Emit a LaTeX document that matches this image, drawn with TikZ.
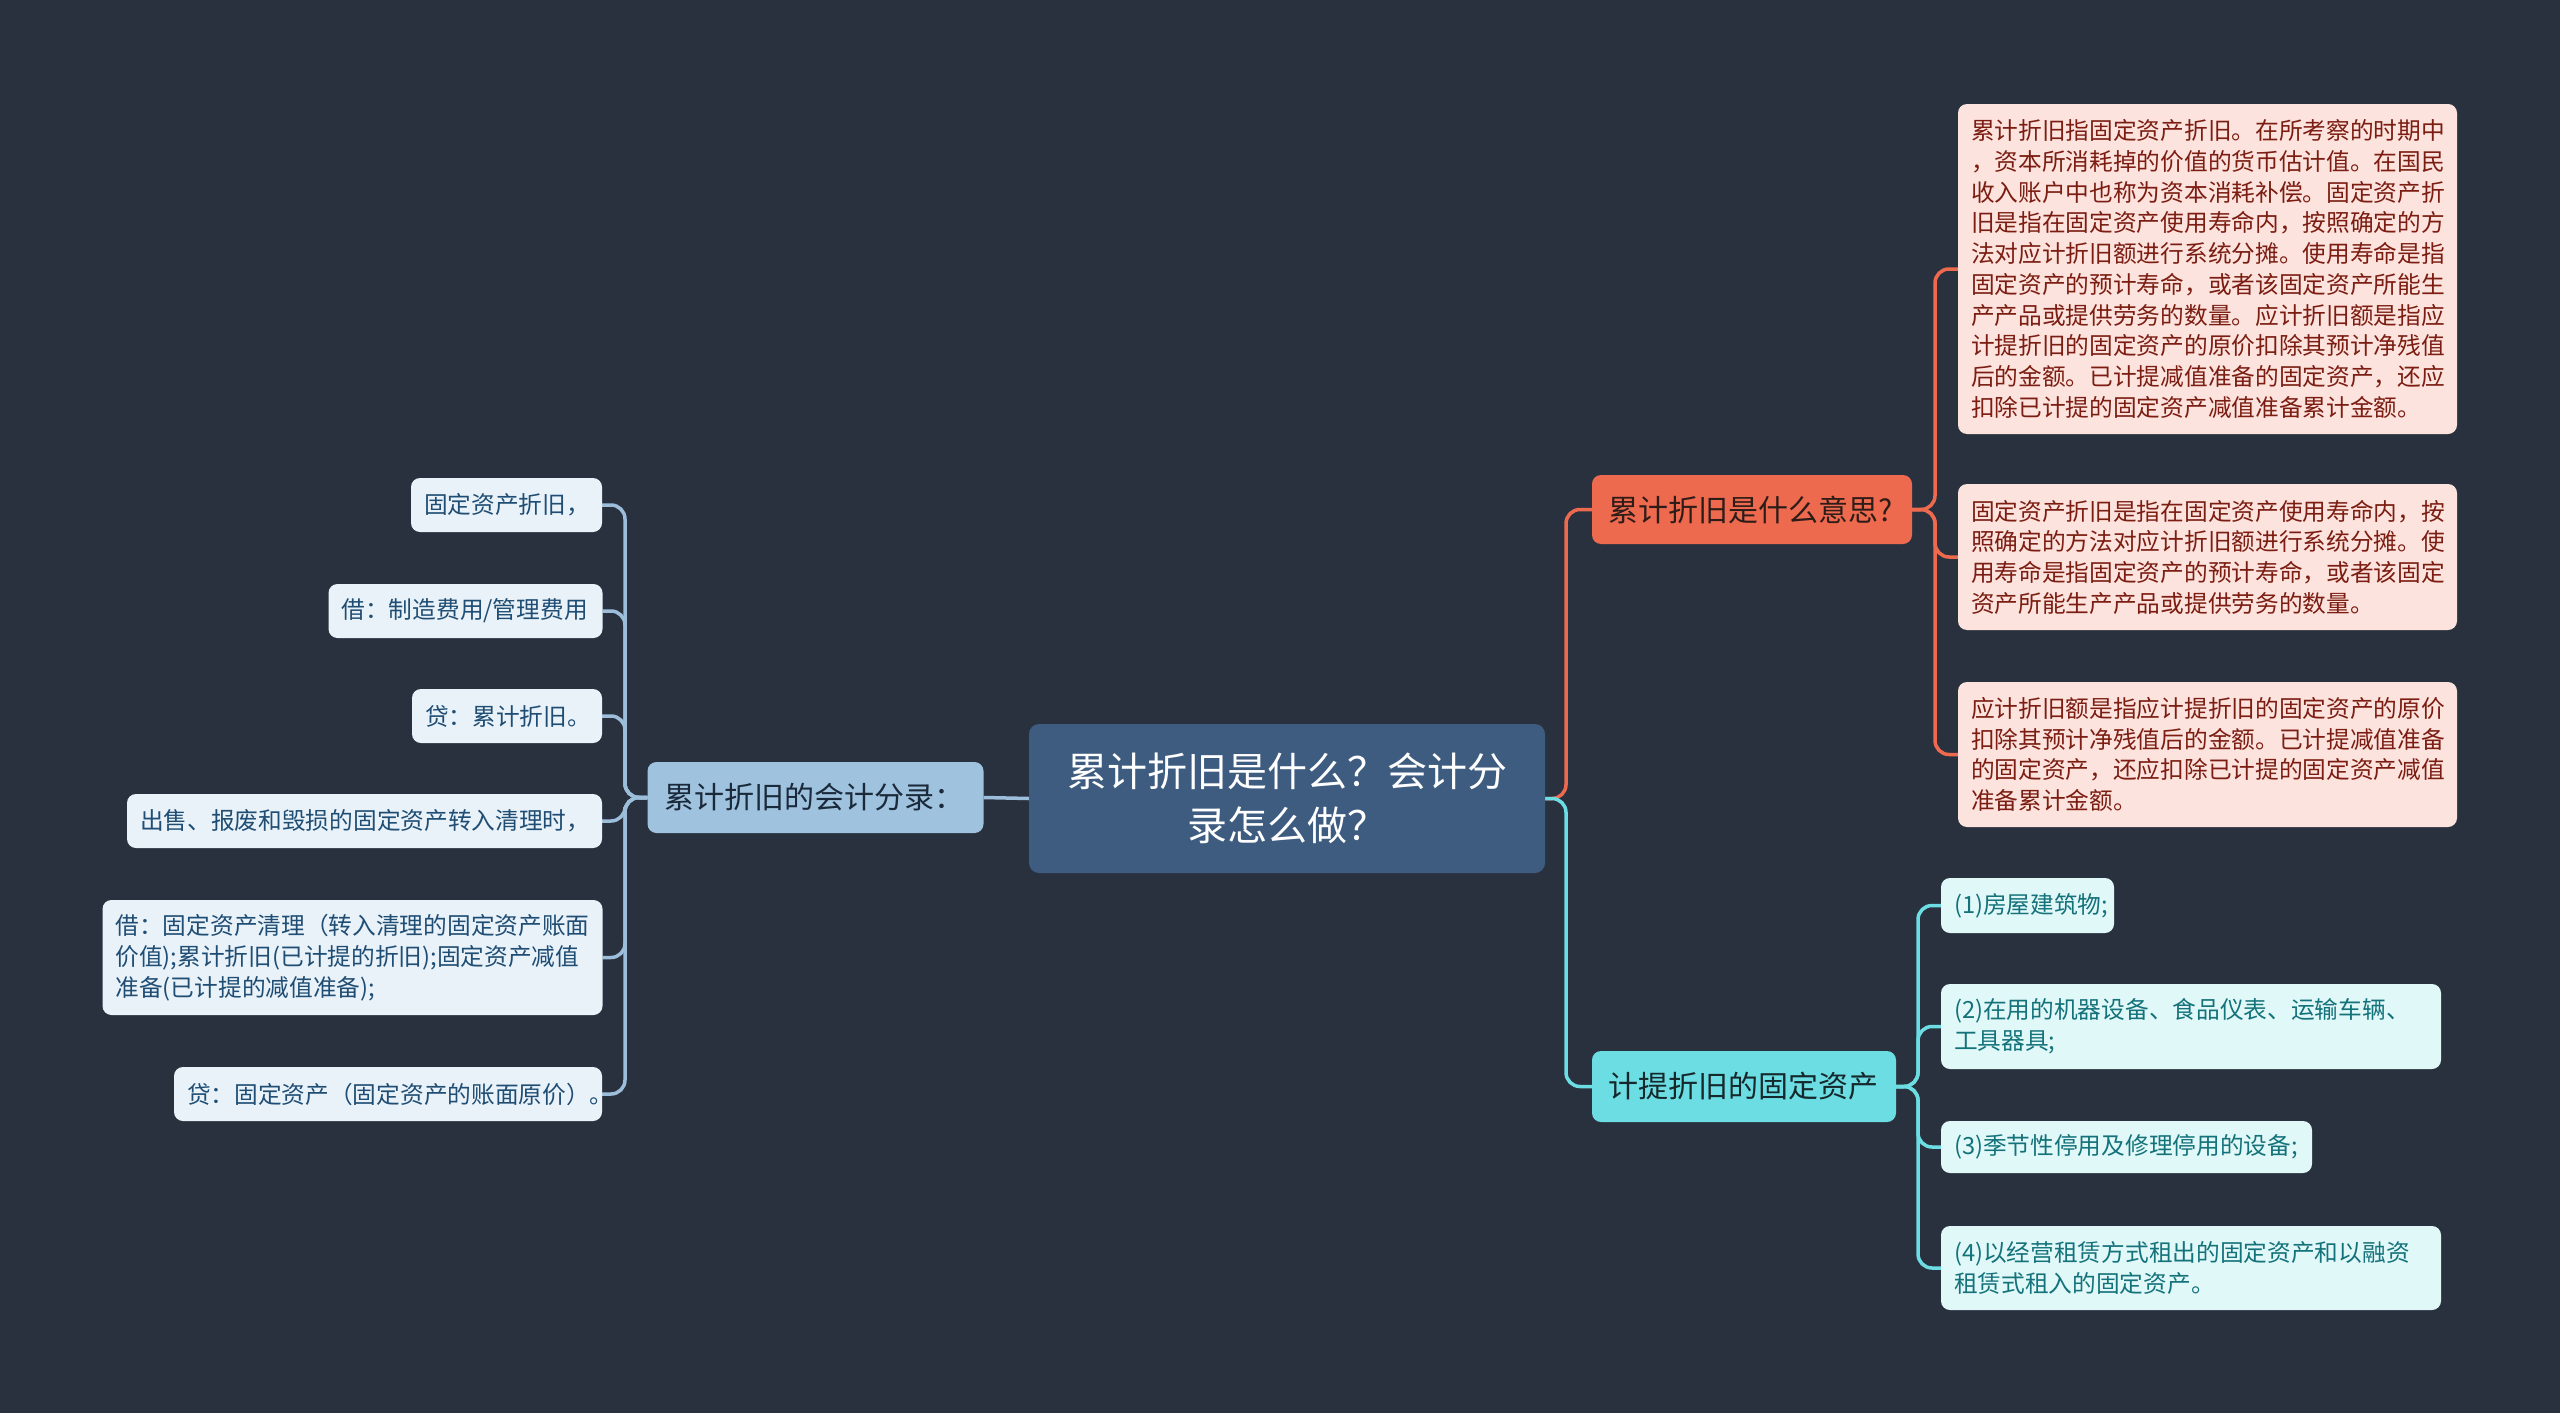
\documentclass[tikz,border=0pt]{standalone}
\usepackage{fontspec}
\setmainfont{Noto Sans CJK SC}
\usetikzlibrary{backgrounds}
\definecolor{bgc}{HTML}{29313F}
\definecolor{cfill}{HTML}{3E5C80}
\definecolor{lmain}{HTML}{9FC2DE}
\definecolor{lmaintext}{HTML}{1A2A3A}
\definecolor{lleaf}{HTML}{E9F2F9}
\definecolor{lleaftext}{HTML}{1F4D73}
\definecolor{lline}{HTML}{9DBEDB}
\definecolor{amain}{HTML}{EE6A4F}
\definecolor{amaintext}{HTML}{2E1C18}
\definecolor{aleaf}{HTML}{FDE3DD}
\definecolor{aleaftext}{HTML}{7B1D12}
\definecolor{bmain}{HTML}{6BDDE3}
\definecolor{bmaintext}{HTML}{15282C}
\definecolor{bleaf}{HTML}{E1F8F9}
\definecolor{bleaftext}{HTML}{14727A}
\begin{document}
\begin{tikzpicture}[x=1pt,y=-1pt,
  box/.style={rounded corners=9pt, inner xsep=13pt, inner ysep=0pt, align=left},
  leaffont/.style={font=\fontsize{23.7}{30.7}\selectfont},
  mainfont/.style={font=\fontsize{30}{38}\selectfont},
  lleafbox/.style={box, leaffont, fill=lleaf, text=lleaftext},
  aleafbox/.style={box, leaffont, fill=aleaf, text=aleaftext},
  bleafbox/.style={box, leaffont, fill=bleaf, text=bleaftext},
  conn/.style={line width=3.5pt, rounded corners=14pt},
  lconn/.style={conn, draw=lline},
  aconn/.style={conn, draw=amain},
  bconn/.style={conn, draw=bmain}]
\begin{scope}[on background layer]
\fill[bgc] (0,0) rectangle (2560,1413);
\end{scope}
\useasboundingbox (0,0) rectangle (2560,1413);

% central
\node[rounded corners=10pt, fill=cfill, text=white, align=center, inner sep=0pt,
  minimum width=516pt, minimum height=149pt, text width=480pt,
  font=\fontsize{40}{54}\selectfont] (C) at (1287,798.5)
  {累计折旧是什么？会计分\\录怎么做？};

% main branches
\node[box, mainfont, fill=lmain, text=lmaintext, minimum height=71pt, text width=302pt, inner xsep=17pt] (L) at (815.5,797.5) {累计折旧的会计分录：};
\node[box, mainfont, fill=amain, text=amaintext, minimum height=69pt, text width=288pt, inner xsep=16pt] (A) at (1752,509.5) {累计折旧是什么意思?};
\node[box, mainfont, fill=bmain, text=bmaintext, minimum height=71pt, text width=272pt, inner xsep=16pt] (B) at (1744,1086.5) {计提折旧的固定资产};

% left leaves
\node[lleafbox, minimum height=54pt, text width=165pt] (L1) at (506.5,505) {固定资产折旧，};
\node[lleafbox, minimum height=54pt, text width=248pt] (L2) at (465.5,611) {借：制造费用/管理费用};
\node[lleafbox, minimum height=54pt, text width=164pt] (L3) at (507,716) {贷：累计折旧。};
\node[lleafbox, minimum height=54pt, text width=449pt] (L4) at (364.5,821) {出售、报废和毁损的固定资产转入清理时，};
\node[lleafbox, minimum height=115pt, text width=474pt] (L5) at (352.5,957.5) {借：固定资产清理（转入清理的固定资产账面\\价值);累计折旧(已计提的折旧);固定资产减值\\准备(已计提的减值准备);};
\node[lleafbox, minimum height=54pt, text width=402pt] (L6) at (388,1094) {贷：固定资产（固定资产的账面原价）。};

% coral leaves
\node[aleafbox, minimum height=330pt, text width=473pt] (A1) at (2207.5,269) {累计折旧指固定资产折旧。在所考察的时期中\\，资本所消耗掉的价值的货币估计值。在国民\\收入账户中也称为资本消耗补偿。固定资产折\\旧是指在固定资产使用寿命内，按照确定的方\\法对应计折旧额进行系统分摊。使用寿命是指\\固定资产的预计寿命，或者该固定资产所能生\\产产品或提供劳务的数量。应计折旧额是指应\\计提折旧的固定资产的原价扣除其预计净残值\\后的金额。已计提减值准备的固定资产，还应\\扣除已计提的固定资产减值准备累计金额。};
\node[aleafbox, minimum height=146pt, text width=473pt] (A2) at (2207.5,557) {固定资产折旧是指在固定资产使用寿命内，按\\照确定的方法对应计折旧额进行系统分摊。使\\用寿命是指固定资产的预计寿命，或者该固定\\资产所能生产产品或提供劳务的数量。};
\node[aleafbox, minimum height=145pt, text width=473pt] (A3) at (2207.5,754.5) {应计折旧额是指应计提折旧的固定资产的原价\\扣除其预计净残值后的金额。已计提减值准备\\的固定资产，还应扣除已计提的固定资产减值\\准备累计金额。};

% cyan leaves
\node[bleafbox, minimum height=55pt, text width=147pt] (B1) at (2027.5,905.5) {(1)房屋建筑物;};
\node[bleafbox, minimum height=85pt, text width=474pt] (B2) at (2191,1026.5) {(2)在用的机器设备、食品仪表、运输车辆、\\工具器具;};
\node[bleafbox, minimum height=52pt, text width=345pt] (B3) at (2126.5,1147) {(3)季节性停用及修理停用的设备;};
\node[bleafbox, minimum height=84pt, text width=474pt] (B4) at (2191,1268) {(4)以经营租赁方式租出的固定资产和以融资\\租赁式租入的固定资产。};

\coordinate (lt) at (625,0);
\coordinate (ct) at (1566,0);
\coordinate (at) at (1935,0);
\coordinate (bt) at (1918,0);

\begin{scope}[on background layer]
\foreach \n in {L1,L2,L3,L4,L5,L6}
  \draw[lconn] (L.west) -- (L.west -| lt) |- (\n.east);
\draw[lconn] (C.west) -- (L.east);
\draw[aconn] (C.east) -- (C.east -| ct) |- (A.west);
\draw[bconn] (C.east) -- (C.east -| ct) |- (B.west);
\foreach \n in {A1,A2,A3}
  \draw[aconn] (A.east) -- (A.east -| at) |- (\n.west);
\foreach \n in {B1,B2,B3,B4}
  \draw[bconn] (B.east) -- (B.east -| bt) |- (\n.west);
\end{scope}
\end{tikzpicture}
\end{document}
